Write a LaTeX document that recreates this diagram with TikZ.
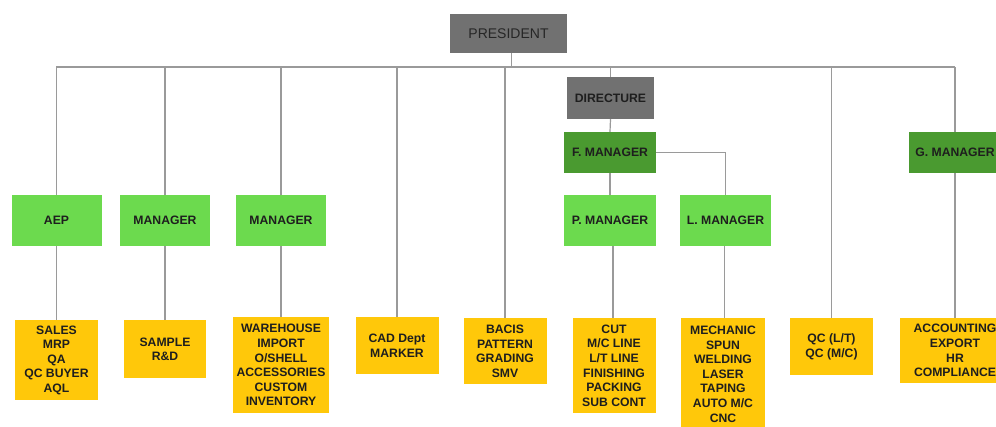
\documentclass[tikz,border=0pt]{standalone}
\usepackage{fontspec}
\setmainfont{Liberation Sans}
\definecolor{pgray}{HTML}{717171}
\definecolor{dgreen}{HTML}{4A9A30}
\definecolor{lgreen}{HTML}{6CDA4E}
\definecolor{yel}{HTML}{FFC80A}
\definecolor{lin}{HTML}{9A9A9A}
\definecolor{txt}{HTML}{1E1E1E}
\begin{document}
\begin{tikzpicture}[x=1pt,y=-1pt,
  box/.style={inner sep=0pt,align=center,font=\fontsize{12.2}{14.6}\selectfont\bfseries,text=txt},
  graybox/.style={box,fill=pgray,minimum width=88pt,minimum height=42pt},
  dgbox/.style={box,fill=dgreen,minimum width=92pt,minimum height=41pt},
  lgbox/.style={box,fill=lgreen,minimum width=90pt,minimum height=51pt},
  ybox/.style={box,fill=yel,anchor=north},
  conn/.style={draw=lin,line width=1.2pt}]
\useasboundingbox (0,0) rectangle (996,427);
% top
\node[graybox,minimum width=117pt,minimum height=39pt,font=\fontsize{14}{16}\selectfont,text=black!85] (pres) at (508.5,33.5) {PRESIDENT};
\coordinate (busL) at (56,67);
\coordinate (busR) at (955,67);
% middle
\node[lgbox] (aep) at (56.5,220.5) {AEP};
\node[lgbox] (m1) at (165,220.5) {MANAGER};
\node[lgbox] (m2) at (281,220.5) {MANAGER};
\node[graybox,minimum width=87pt] (dir) at (610.5,98) {DIRECTURE};
\node[dgbox] (fm) at (610,152.5) {F. MANAGER};
\node[lgbox,minimum width=92pt] (pm) at (610,220.5) {P. MANAGER};
\node[lgbox,minimum width=91pt] (lm) at (725.5,220.5) {L. MANAGER};
\node[dgbox] (gm) at (955,152.5) {G. MANAGER};
% bottom
\node[ybox,minimum width=83pt,minimum height=80pt] (b1) at (56.5,320) {SALES\\MRP\\QA\\QC BUYER\\AQL};
\node[ybox,minimum width=82pt,minimum height=58pt] (b2) at (165,320) {SAMPLE\\R\&D};
\node[ybox,minimum width=96pt,minimum height=96pt] (b3) at (281,317) {WAREHOUSE\\IMPORT\\O/SHELL\\ACCESSORIES\\CUSTOM\\INVENTORY};
\node[ybox,minimum width=83pt,minimum height=57pt] (b4) at (397,317) {CAD Dept\\MARKER};
\node[ybox,minimum width=83pt,minimum height=66pt] (b5) at (505,318) {BACIS\\PATTERN\\GRADING\\SMV};
\node[ybox,minimum width=83pt,minimum height=95pt] (b6) at (614,318) {CUT\\M/C LINE\\L/T LINE\\FINISHING\\PACKING\\SUB CONT};
\node[ybox,minimum width=84pt,minimum height=112pt] (b7) at (723,318) {MECHANIC\\SPUN\\WELDING\\LASER\\TAPING\\AUTO M/C\\CNC};
\node[ybox,minimum width=83pt,minimum height=57pt] (b8) at (831.5,318) {QC (L/T)\\QC (M/C)};
\node[ybox,minimum width=110pt,minimum height=65pt] (b9) at (955,318) {ACCOUNTING\\EXPORT\\HR\\COMPLIANCE};
% connectors
\draw[conn] (pres.south) ++(3,0) coordinate (ps) -- (ps |- busL);
\draw[conn] (busL) -- (busR);
\draw[conn] (aep.north |- busL) -- (aep.north);
\draw[conn] (m1.north |- busL) -- (m1.north);
\draw[conn] (m2.north |- busL) -- (m2.north);
\draw[conn] (b4.north |- busL) -- (b4.north);
\draw[conn] (b5.north |- busL) -- (b5.north);
\draw[conn] (dir.north |- busL) -- (dir.north);
\draw[conn] (b8.north |- busL) -- (b8.north);
\draw[conn] (gm.north |- busL) -- (gm.north);
\draw[conn] (dir.south) -- (fm.north);
\draw[conn] (fm.south) -- (pm.north);
\draw[conn] (fm.east) -| (lm.north);
\draw[conn] (aep.south) -- (b1.north);
\draw[conn] (m1.south) -- (b2.north);
\draw[conn] (m2.south) -- (b3.north);
\draw[conn] (pm.south) ++(3,0) coordinate (pms) -- (pms |- b6.north);
\draw[conn] (lm.south) ++(-1,0) coordinate (lms) -- (lms |- b7.north);
\draw[conn] (gm.south) -- (b9.north);
\end{tikzpicture}
\end{document}
